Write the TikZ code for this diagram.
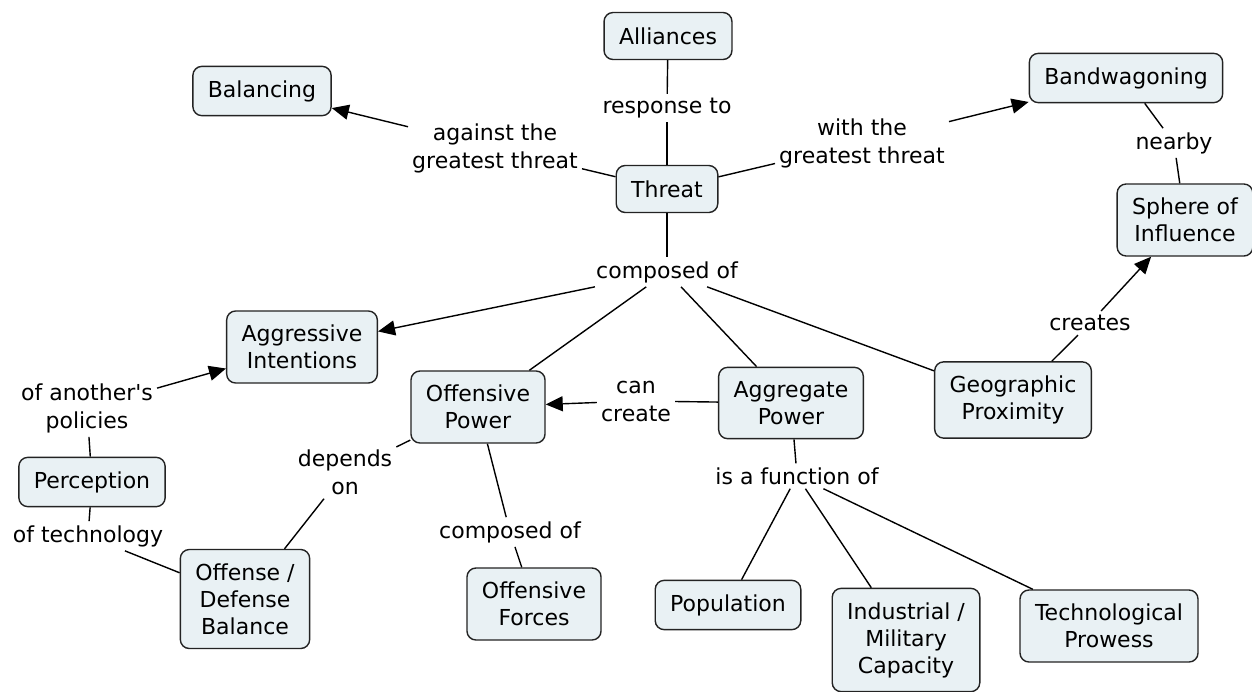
\documentclass[tikz,border=0pt]{standalone}
\usepackage{fontspec}
\setmainfont{DejaVu Sans}
\usetikzlibrary{arrows.meta}

\definecolor{conceptfill}{RGB}{233,241,244}
\definecolor{conceptline}{RGB}{35,35,35}

\begin{document}
\begin{tikzpicture}[x=1pt, y=-1pt,
    concept/.style={draw=conceptline, line width=1.4pt, fill=conceptfill, rounded corners=9pt,
      align=center, inner xsep=15pt, inner ysep=14pt, minimum height=47pt,
      font=\fontsize{22}{27}\selectfont},
    link/.style={align=center, inner sep=4pt, font=\fontsize{22}{28}\selectfont},
    conn/.style={line width=1.4pt},
    arr/.style={line width=1.4pt, -{Triangle[length=17pt,width=15pt]}}]
      \useasboundingbox (0,0) rectangle (1252,691);
      % concepts
      \node [concept] (alliances) at (668,36) {Alliances};
      \node [concept] (balancing) at (262,91) {Balancing};
      \node [concept] (bandwagon) at (1126,78) {Bandwagoning};
      \node [concept] (threat) at (667,189) {Threat};
      \node [concept] (sphere) at (1185,220) {Sphere of\\Influence};
      \node [concept] (aggint) at (302,347) {Aggressive\\Intentions};
      \node [concept] (offpower) at (478,407) {Offensive\\Power};
      \node [concept] (aggpower) at (791,403) {Aggregate\\Power};
      \node [concept] (geoprox) at (1013,400) {Geographic\\Proximity};
      \node [concept] (perception) at (92,482) {Perception};
      \node [concept] (balance) at (245,599) {Offense /\\Defense\\Balance};
      \node [concept] (offforces) at (534,604) {Offensive\\Forces};
      \node [concept] (population) at (728,605) {Population};
      \node [concept] (industrial) at (906,640) {Industrial /\\Military\\Capacity};
      \node [concept] (techprow) at (1109,626) {Technological\\Prowess};
      % linking phrases
      \node [link] (response) at (667,108) {response to};
      \node [link] (against) at (495,148) {against the\\greatest threat};
      \node [link] (with) at (862,143) {with the\\greatest threat};
      \node [link] (nearby) at (1174,143) {nearby};
      \node [link] (composed) at (667,272) {composed of};
      \node [link] (creates) at (1090,323) {creates};
      \node [link] (policies) at (87,408) {of another\textquotesingle s\\policies};
      \node [link] (cancreate) at (636,401) {can\\create};
      \node [link] (depends) at (345,472) {depends\\on};
      \node [link] (composed2) at (510,532) {composed of};
      \node [link] (function) at (797,476) {is a function of};
      \node [link] (oftech) at (88,536) {of technology};
      % connectors
      \draw [conn] (alliances) -- (response);
      \draw [conn] (response) -- (threat);
      \draw [conn] (threat) -- (against);
      \draw [arr] (against) -- (balancing);
      \draw [conn] (threat) -- (with);
      \draw [arr] (with) -- (bandwagon);
      \draw [conn] (bandwagon) -- (nearby);
      \draw [conn] (nearby) -- (sphere);
      \draw [conn] (threat) -- (composed);
      \draw [arr] (composed) -- (aggint);
      \draw [conn] (composed) -- (offpower);
      \draw [conn] (composed) -- (aggpower);
      \draw [conn] (composed) -- (geoprox);
      \draw [conn] (geoprox) -- (creates);
      \draw [arr] (creates) -- (sphere);
      \draw [conn] (aggpower) -- (cancreate);
      \draw [arr] (cancreate) -- (offpower);
      \draw [conn] (aggpower) -- (function);
      \draw [conn] (function) -- (population);
      \draw [conn] (function) -- (industrial);
      \draw [conn] (function) -- (techprow);
      \draw [conn] (offpower) -- (depends);
      \draw [conn] (depends) -- (balance);
      \draw [conn] (offpower) -- (composed2);
      \draw [conn] (composed2) -- (offforces);
      \draw [conn] (perception) -- (policies);
      \draw [arr] (policies) -- (aggint);
      \draw [conn] (perception) -- (oftech);
      \draw [conn] (oftech) -- (balance);
\end{tikzpicture}
\end{document}
